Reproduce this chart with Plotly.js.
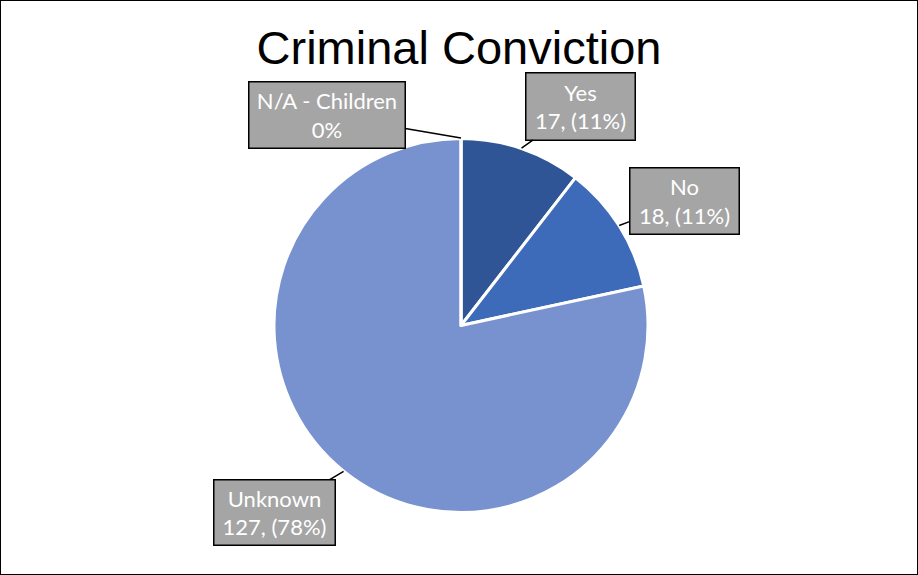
<!DOCTYPE html>
<html>
<head>
<meta charset="utf-8">
<script src="https://cdn.plot.ly/plotly-3.0.1.min.js"></script>
<style>
  html, body { margin: 0; padding: 0; background: #fff; }
  #wrap { position: relative; width: 918px; height: 575px; }
  #chart { position: absolute; left: 0; top: 0; width: 918px; height: 575px; }
  #frame { position: absolute; left: 0; top: 0; width: 916px; height: 573px; border: 1px solid #000; pointer-events: none; }
</style>
</head>
<body>
<div id="wrap">
  <div id="chart"></div>
  <div id="frame"></div>
</div>
<script>
const categories = ["Yes", "No", "Unknown", "N/A - Children"];
const counts = [17, 18, 127, 0];
const percentLabels = ["(11%)", "(11%)", "(78%)", "0%"];
const sliceColors = ["#2F5597", "#3D6BB9", "#7891CF", "#A9B9E0"];

// label box offsets (px) from slice edge point, and box sizes
const labelOffsets = [[59, -42], [65, -25], [-69, 41], [-134, -23]];
const boxSizes = [[108, 66], [108, 65], [120, 64], [155, 65]];

const total = counts.reduce((a, b) => a + b, 0);
let cum = 0;
const annotations = [];
counts.forEach((v, i) => {
  const midFrac = (cum + v / 2) / total;
  cum += v;
  const th = midFrac * 2 * Math.PI;
  const px = 0.5 + 0.5 * Math.sin(th);
  const py = 0.5 + 0.5 * Math.cos(th);
  const text = (v === 0)
    ? categories[i] + "<br>" + percentLabels[i]
    : categories[i] + "<br>" + v + ", " + percentLabels[i];
  annotations.push({
    xref: "paper", yref: "paper", x: px, y: py,
    text: text, showarrow: true, arrowhead: 0, arrowwidth: 1.5, arrowcolor: "#000",
    ax: labelOffsets[i][0], ay: labelOffsets[i][1],
    bgcolor: "#A5A5A5", bordercolor: "#000", borderwidth: 1.5, borderpad: 0,
    width: boxSizes[i][0], height: boxSizes[i][1],
    font: { family: "Lato, 'Open Sans', sans-serif", size: 22, color: "#FFFFFF" },
    align: "center", valign: "middle"
  });
});

const data = [{
  type: "pie",
  labels: categories,
  values: counts,
  sort: false,
  direction: "clockwise",
  rotation: 0,
  textinfo: "none",
  hoverinfo: "label+value+percent",
  marker: { colors: sliceColors, line: { color: "#FFFFFF", width: 3 } },
  showlegend: false
}];

const layout = {
  width: 918, height: 575,
  margin: { l: 274, r: 270, t: 138, b: 62 },
  paper_bgcolor: "#FFFFFF",
  title: {
    text: "Criminal Conviction",
    font: { family: "'Liberation Sans', Arial, sans-serif", size: 47, color: "#000" },
    x: 0.5, xref: "container", xanchor: "center",
    y: 1 - 48 / 575, yref: "container", yanchor: "middle"
  },
  annotations: annotations,
  showlegend: false
};

Plotly.newPlot("chart", data, layout, { displayModeBar: false, staticPlot: true });
</script>
</body>
</html>
